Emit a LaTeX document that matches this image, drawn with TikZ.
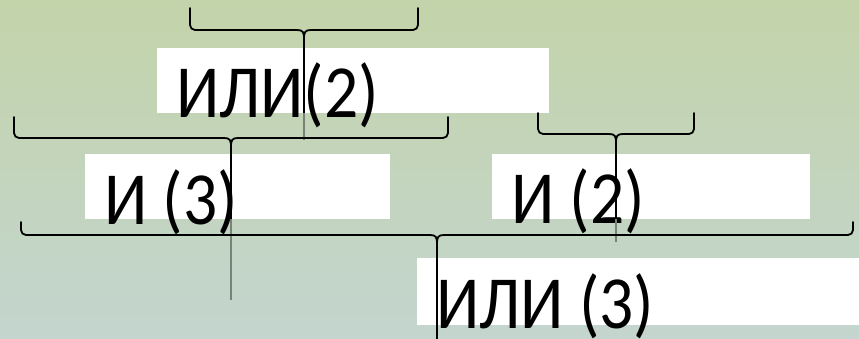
\documentclass[tikz,border=0pt]{standalone}
\usepackage{fontspec}
\newfontfamily\labelfont[FakeStretch=0.9]{Carlito}
\definecolor{bgtop}{RGB}{195,212,170}
\definecolor{bgbot}{RGB}{195,213,206}
\definecolor{stemgray}{RGB}{120,130,120}
% horizontal curly brace: #1 left x, #2 right x, #3 end top y, #4 bar y
\newcommand\hbrace[4]{%
  \draw[bracestyle] (#1,#3) -- (#1,#4-5) to[out=-90,in=180] (#1+5,#4)
    -- ({(#1+#2)/2-7},#4) .. controls ({(#1+#2)/2-1},#4) and ({(#1+#2)/2},#4+2) .. ({(#1+#2)/2},#4+9);
  \draw[bracestyle] (#2,#3) -- (#2,#4-5) to[out=-90,in=0] (#2-5,#4)
    -- ({(#1+#2)/2+7},#4) .. controls ({(#1+#2)/2+1},#4) and ({(#1+#2)/2},#4+2) .. ({(#1+#2)/2},#4+9);
  \coordinate (brc) at ({(#1+#2)/2},#4+9);
}
\begin{document}
\begin{tikzpicture}[x=1pt,y=-1pt,
  bracestyle/.style={line width=1.8pt, line join=round, line cap=round},
  stemline/.style={line width=1.1pt},
  fadedstem/.style={line width=1.1pt, draw=stemgray},
  whitebox/.style={fill=white, draw=none, inner sep=0pt, anchor=north west},
  lbl/.style={font=\labelfont\fontsize{75}{80}\selectfont, anchor=base west, inner sep=0pt, outer sep=0pt}]
\useasboundingbox (0,0) rectangle (859,339);
\shade[top color=bgtop, bottom color=bgbot] (0,0) rectangle (859,339);

% white label boxes
\node[whitebox, minimum width=392pt, minimum height=65pt] (box1) at (157,48) {};
\node[whitebox, minimum width=305pt, minimum height=65pt] (box2) at (85,154) {};
\node[whitebox, minimum width=318pt, minimum height=65pt] (box3) at (492,154) {};
\node[whitebox, minimum width=442pt, minimum height=67pt] (box4) at (417,258) {};

% labels
\node[lbl] (t1) at (176,118) {ИЛИ(2)};
\node[lbl] (t2) at (104,225) {И (3)};
\node[lbl] (t3) at (511,223) {И (2)};
\node[lbl] (t4) at (436,328) {ИЛИ (3)};

% braces with their stems
\hbrace{190}{418}{8}{30}
\coordinate (s1a) at (304,113);
\coordinate (s1b) at (304,140);
\draw[stemline] (brc) -- (s1a);
\draw[fadedstem] (s1a) -- (s1b);

\hbrace{14}{448}{117}{138}
\coordinate (s2a) at (231,219);
\coordinate (s2b) at (231,300);
\draw[stemline] (brc) -- (s2a);
\draw[fadedstem] (s2a) -- (s2b);

\hbrace{538}{694}{113}{134}
\coordinate (s3a) at (616,219);
\coordinate (s3b) at (616,242);
\draw[stemline] (brc) -- (s3a);
\draw[fadedstem] (s3a) -- (s3b);

\hbrace{21}{853}{222}{235}
\coordinate (s4a) at (437,339);
\draw[stemline] (brc) -- (s4a);
\end{tikzpicture}
\end{document}
